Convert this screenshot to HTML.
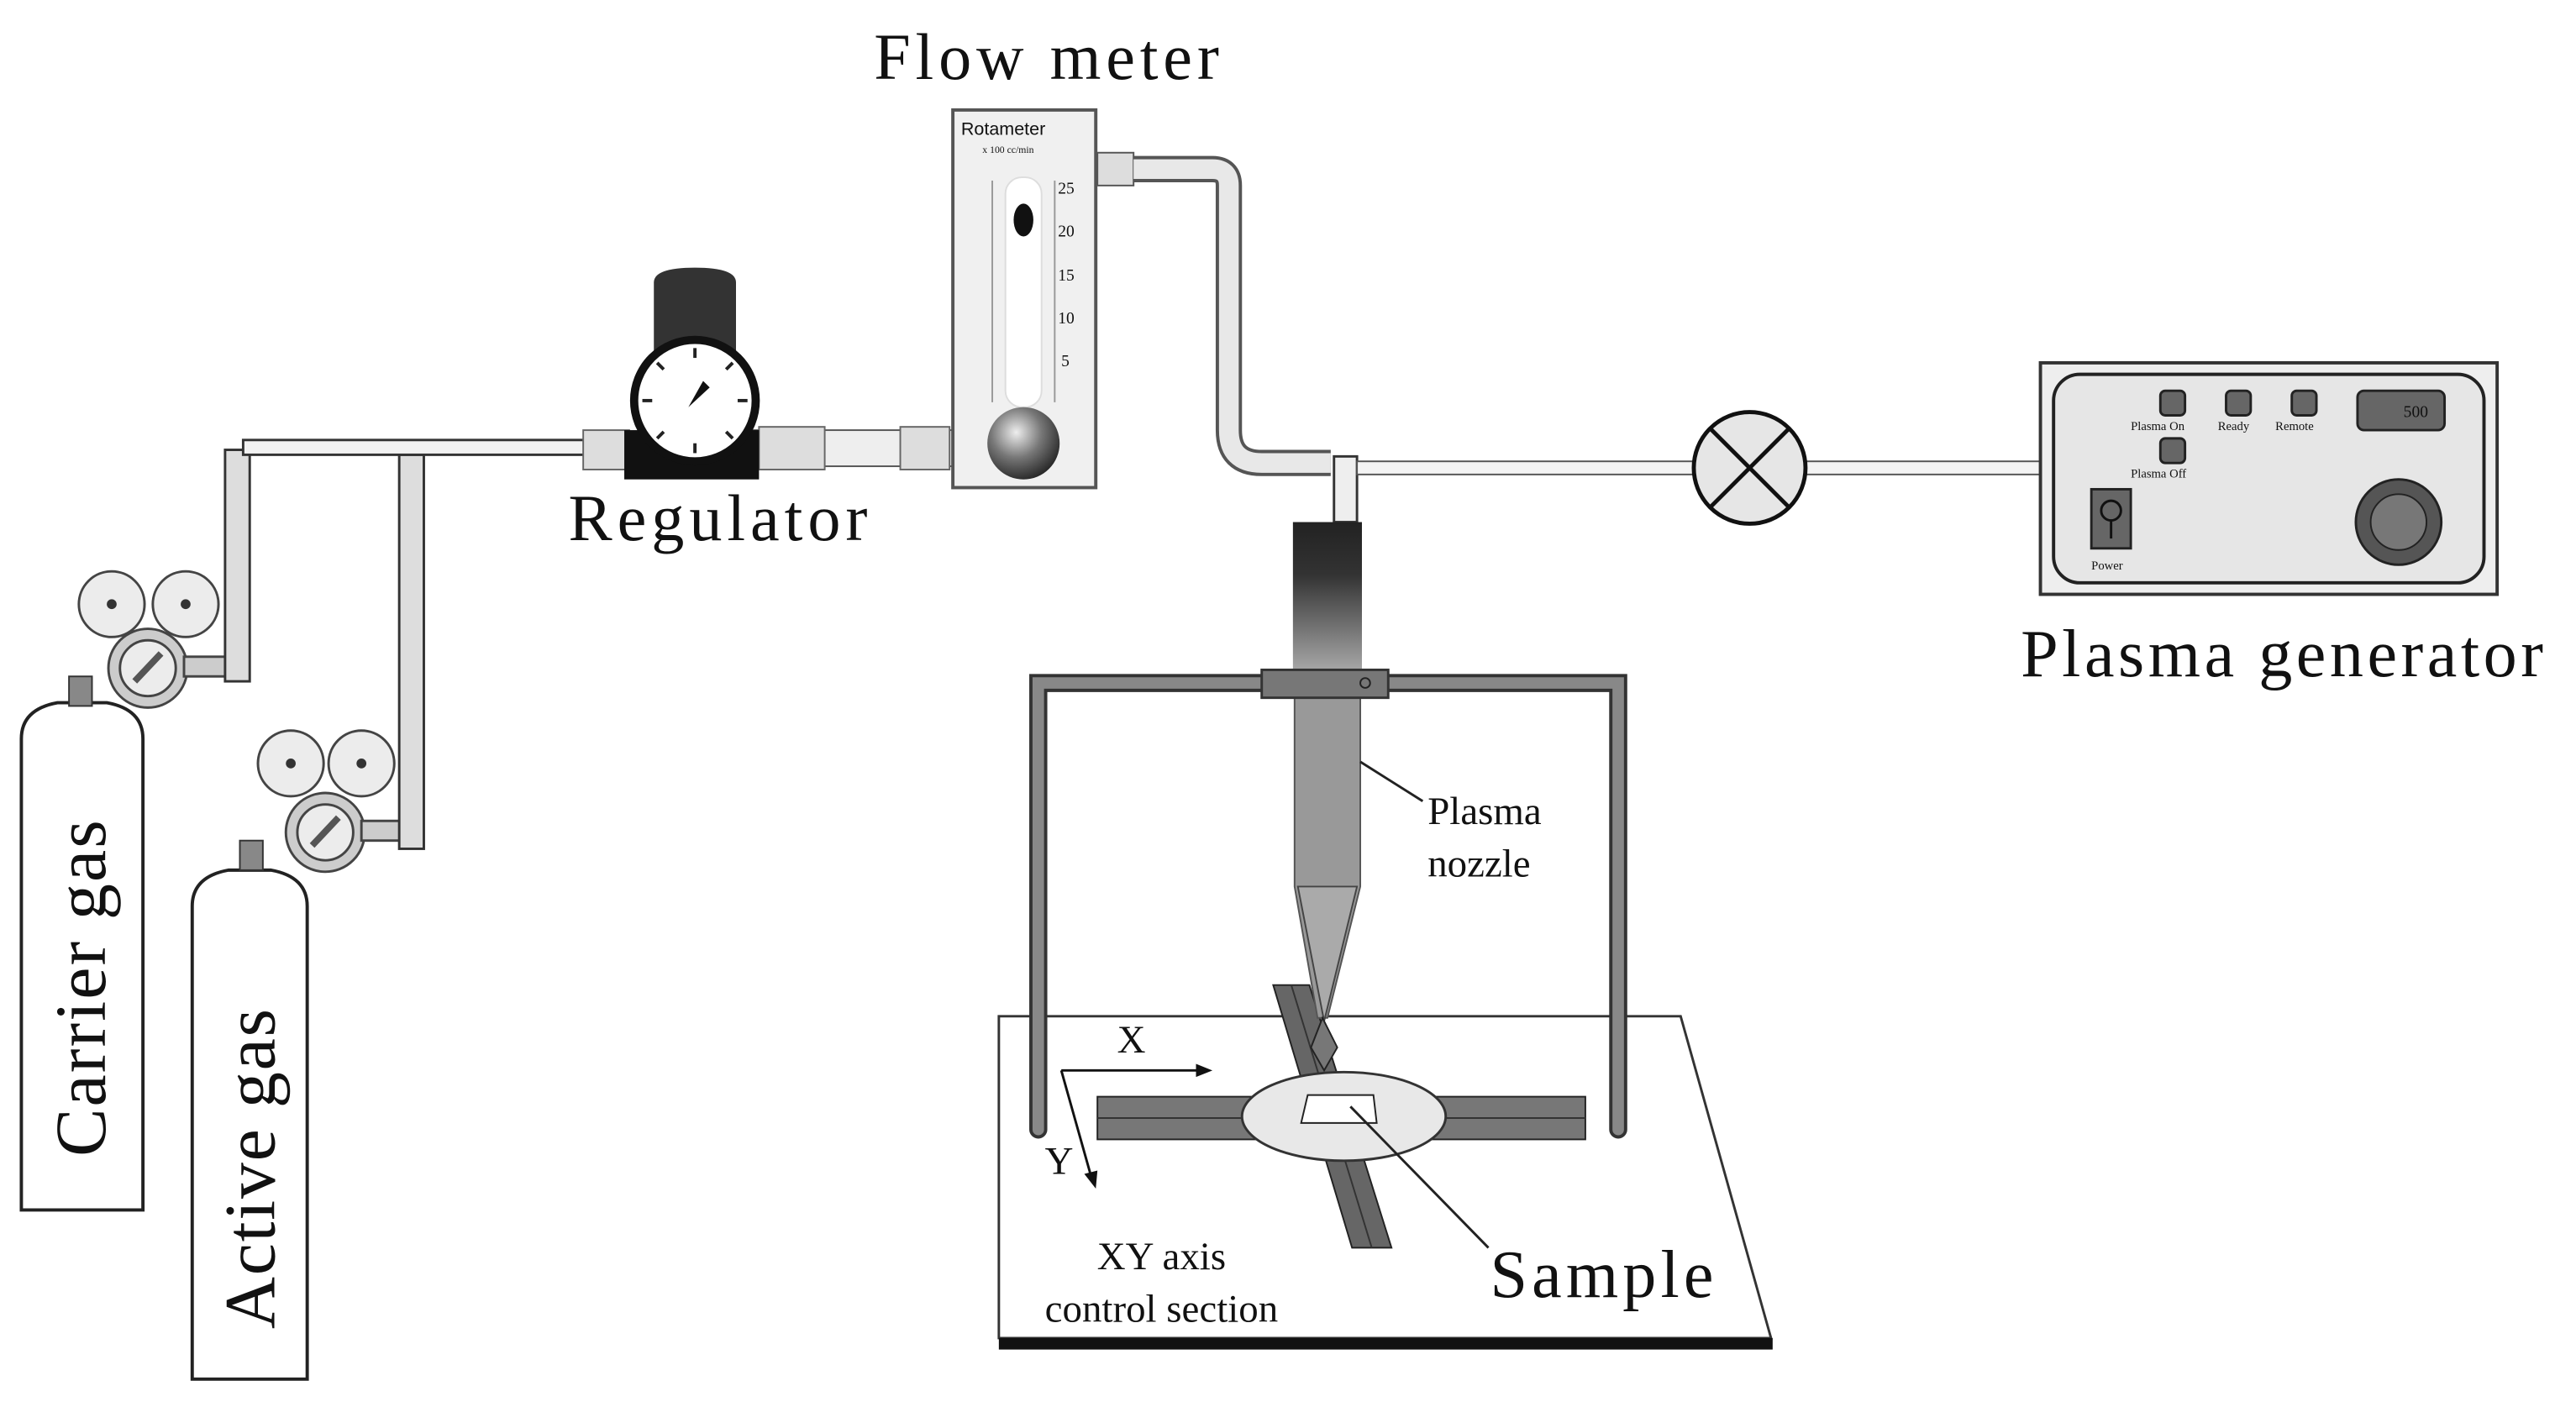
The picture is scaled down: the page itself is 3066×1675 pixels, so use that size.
<!DOCTYPE html>
<html><head><meta charset="utf-8"><style>
html,body{margin:0;padding:0;background:#fff}
svg{display:block}
text{font-family:"Liberation Serif",serif;fill:#111}
</style></head><body>
<svg width="3066" height="1675" viewBox="0 0 1568 857" preserveAspectRatio="none" xmlns="http://www.w3.org/2000/svg">
<defs>
<radialGradient id="ball" cx="0.4" cy="0.35" r="0.7"><stop offset="0" stop-color="#eee"/><stop offset="0.5" stop-color="#777"/><stop offset="1" stop-color="#222"/></radialGradient>
<linearGradient id="noz" x1="0" y1="0" x2="0" y2="1"><stop offset="0" stop-color="#222"/><stop offset="0.35" stop-color="#333"/><stop offset="1" stop-color="#aaa"/></linearGradient>
</defs>

<!-- Tanks -->
<path d="M13,737 V450 Q13,432 35,428 H65 Q87,432 87,450 V737 Z" fill="#fff" stroke="#222" stroke-width="2"/>
<path d="M117,840 V552 Q117,534 139,530 H165 Q187,534 187,552 V840 Z" fill="#fff" stroke="#222" stroke-width="2"/>
<rect x="42" y="412" width="14" height="18" fill="#888" stroke="#333"/>
<rect x="146" y="512" width="14" height="18" fill="#888" stroke="#333"/>
<text transform="translate(64,602) rotate(-90)" text-anchor="middle" font-size="44" textLength="205" lengthAdjust="spacing">Carrier gas</text>
<text transform="translate(167,712) rotate(-90)" text-anchor="middle" font-size="44" textLength="195" lengthAdjust="spacing">Active gas</text>

<!-- tank regulators -->
<g stroke="#444" stroke-width="1.5" fill="#ececec">
<circle cx="68" cy="368" r="20"/><circle cx="113" cy="368" r="20"/>
<circle cx="90" cy="407" r="24" fill="#ccc"/><circle cx="90" cy="407" r="17"/>
<rect x="112" y="400" width="26" height="12" fill="#ccc"/>
<circle cx="177" cy="465" r="20"/><circle cx="220" cy="465" r="20"/>
<circle cx="198" cy="507" r="24" fill="#ccc"/><circle cx="198" cy="507" r="17"/>
<rect x="220" y="500" width="26" height="12" fill="#ccc"/>
</g>
<g fill="#333"><circle cx="68" cy="368" r="3"/><circle cx="113" cy="368" r="3"/><circle cx="177" cy="465" r="3"/><circle cx="220" cy="465" r="3"/></g>
<line x1="82" y1="415" x2="98" y2="398" stroke="#555" stroke-width="4"/>
<line x1="190" y1="515" x2="206" y2="498" stroke="#555" stroke-width="4"/>

<!-- gas pipes -->
<rect x="137" y="274" width="15" height="141" fill="#ddd" stroke="#333" stroke-width="1.5"/>
<rect x="243" y="277" width="15" height="240" fill="#ddd" stroke="#333" stroke-width="1.5"/>
<rect x="148" y="268" width="212" height="9" fill="#f2f2f2" stroke="#333" stroke-width="1.5"/>

<!-- Regulator -->
<rect x="455" y="262" width="125" height="22" fill="#eee" stroke="#555"/>
<rect x="355" y="262" width="28" height="24" fill="#ddd" stroke="#666"/>
<rect x="462" y="260" width="40" height="26" fill="#ddd" stroke="#666"/>
<rect x="548" y="260" width="30" height="26" fill="#ddd" stroke="#666"/>
<rect x="380" y="262" width="82" height="30" fill="#111"/>
<path d="M398,215 V172 Q398,163 423,163 Q448,163 448,172 V215 Z" fill="#333"/>
<circle cx="423" cy="244" r="37" fill="#fff" stroke="#111" stroke-width="5"/>
<g stroke="#222" stroke-width="2">
<line x1="423" y1="212" x2="423" y2="218"/><line x1="423" y1="270" x2="423" y2="276"/>
<line x1="391" y1="244" x2="397" y2="244"/><line x1="449" y1="244" x2="455" y2="244"/>
<line x1="400" y1="221" x2="404" y2="225"/><line x1="446" y1="221" x2="442" y2="225"/>
<line x1="400" y1="267" x2="404" y2="263"/><line x1="446" y1="267" x2="442" y2="263"/>
</g>
<path d="M419,248 L428,232 L432,236 Z" fill="#111"/>
<text x="346" y="329" font-size="40" textLength="182" lengthAdjust="spacing">Regulator</text>

<!-- Flow meter -->
<text x="532" y="48" font-size="40" textLength="210" lengthAdjust="spacing">Flow meter</text>
<rect x="580" y="67" width="87" height="230" fill="#f0f0f0" stroke="#555" stroke-width="2"/>
<text x="585" y="82" font-size="11" style="font-family:'Liberation Sans',sans-serif" fill="#555">Rotameter</text>
<text x="598" y="93" font-size="6" fill="#777">x 100 cc/min</text>
<rect x="612" y="108" width="22" height="140" rx="10" fill="#fff" stroke="#ddd"/>
<g stroke="#999" stroke-width="1">
<line x1="604" y1="110" x2="604" y2="245"/><line x1="642" y1="110" x2="642" y2="245"/>
</g>
<g font-size="10" fill="#555" style="font-family:'Liberation Sans',sans-serif">
<text x="644" y="118">25</text><text x="644" y="144">20</text><text x="644" y="171">15</text><text x="644" y="197">10</text><text x="646" y="223">5</text>
</g>
<ellipse cx="623" cy="134" rx="6" ry="10" fill="#111"/>
<circle cx="623" cy="270" r="22" fill="url(#ball)"/>

<!-- flow pipe -->
<rect x="668" y="93" width="22" height="20" fill="#ddd" stroke="#555"/>
<path d="M690,103 H738 Q748,103 748,113 V262 Q748,282 768,282 H810" fill="none" stroke="#555" stroke-width="16"/>
<path d="M690,103 H738 Q748,103 748,113 V262 Q748,282 768,282 H810" fill="none" stroke="#e8e8e8" stroke-width="12"/>
<rect x="812" y="278" width="14" height="40" fill="#eee" stroke="#333" stroke-width="1.5"/>

<!-- line to generator -->
<rect x="826" y="281" width="205" height="8" fill="#f4f4f4" stroke="#555"/>
<rect x="1099" y="281" width="145" height="8" fill="#f4f4f4" stroke="#555"/>
<circle cx="1065" cy="285" r="34" fill="#e6e6e6" stroke="#111" stroke-width="2.5"/>
<line x1="1041" y1="261" x2="1089" y2="309" stroke="#111" stroke-width="2.5"/>
<line x1="1089" y1="261" x2="1041" y2="309" stroke="#111" stroke-width="2.5"/>

<!-- Plasma generator -->
<rect x="1242" y="221" width="278" height="141" fill="#eee" stroke="#333" stroke-width="2"/>
<rect x="1250" y="228" width="262" height="127" rx="16" fill="#e6e6e6" stroke="#222" stroke-width="2"/>
<g fill="#666" stroke="#222" stroke-width="1.5">
<rect x="1315" y="238" width="15" height="15" rx="3"/><rect x="1355" y="238" width="15" height="15" rx="3"/><rect x="1395" y="238" width="15" height="15" rx="3"/>
<rect x="1315" y="267" width="15" height="15" rx="3"/>
<rect x="1435" y="238" width="53" height="24" rx="4"/>
<rect x="1273" y="298" width="24" height="36"/>
</g>
<g font-size="7.5" fill="#222"><text x="1297" y="262">Plasma On</text><text x="1350" y="262">Ready</text><text x="1385" y="262">Remote</text><text x="1297" y="291">Plasma Off</text><text x="1273" y="347">Power</text></g>
<text x="1463" y="254" font-size="10" fill="#111">500</text>
<circle cx="1285" cy="311" r="6" fill="none" stroke="#111" stroke-width="1.5"/><line x1="1285" y1="317" x2="1285" y2="328" stroke="#111" stroke-width="1.5"/>
<circle cx="1460" cy="318" r="26" fill="#555" stroke="#222" stroke-width="1.5"/>
<circle cx="1460" cy="318" r="17" fill="#777" stroke="#222"/>
<text x="1230" y="412" font-size="41" textLength="318" lengthAdjust="spacing">Plasma generator</text>

<!-- base -->
<path d="M608,619 H1023 L1078,815 H608 Z" fill="#fff" stroke="#333" stroke-width="1.5"/>
<rect x="608" y="815" width="471" height="7" fill="#111"/>

<!-- rails -->
<rect x="668" y="668" width="297" height="26" fill="#777" stroke="#222"/>
<line x1="668" y1="681" x2="965" y2="681" stroke="#333"/>
<path d="M775,600 L797,600 L847,760 L823,760 Z" fill="#666" stroke="#222"/>
<line x1="786" y1="600" x2="835" y2="760" stroke="#333"/>
<ellipse cx="818" cy="680" rx="62" ry="27" fill="#e8e8e8" stroke="#333" stroke-width="1.5"/>
<path d="M796,667 L836,667 L838,684 L792,684 Z" fill="#fff" stroke="#222"/>
<line x1="822" y1="674" x2="906" y2="760" stroke="#222" stroke-width="1.5"/>

<!-- axis -->
<line x1="646" y1="652" x2="730" y2="652" stroke="#111" stroke-width="1.5"/>
<path d="M738,652 L728,648 L728,656 Z" fill="#111"/>
<line x1="646" y1="652" x2="664" y2="716" stroke="#111" stroke-width="1.5"/>
<path d="M667,724 L660,715 L668,713 Z" fill="#111"/>
<text x="680" y="641" font-size="24">X</text>
<text x="636" y="715" font-size="24">Y</text>
<text x="707" y="773" font-size="24" text-anchor="middle">XY axis</text>
<text x="707" y="805" font-size="24" text-anchor="middle">control section</text>
<text x="907" y="790" font-size="41" textLength="136" lengthAdjust="spacing">Sample</text>

<!-- stand -->
<path d="M632,688 V416 H985 V688" fill="none" stroke="#333" stroke-width="11" stroke-linecap="round"/>
<path d="M632,688 V416 H985 V688" fill="none" stroke="#888" stroke-width="7" stroke-linecap="round"/>

<!-- nozzle -->
<rect x="787" y="318" width="42" height="92" fill="url(#noz)"/>
<path d="M788,425 H828 V540 L808,620 L802,620 L788,540 Z" fill="#999" stroke="#555"/>
<path d="M790,540 H826 L806,622 Z" fill="#aaa" stroke="#444"/>
<path d="M805,620 L814,638 L806,652 L798,638 Z" fill="#777" stroke="#222"/>
<rect x="768" y="408" width="77" height="17" fill="#777" stroke="#333" stroke-width="1.5"/>
<circle cx="831" cy="416" r="3" fill="none" stroke="#222"/>
<line x1="828" y1="464" x2="866" y2="488" stroke="#222" stroke-width="1.5"/>
<text x="869" y="502" font-size="24">Plasma</text>
<text x="869" y="534" font-size="24">nozzle</text>
</svg>
</body></html>
